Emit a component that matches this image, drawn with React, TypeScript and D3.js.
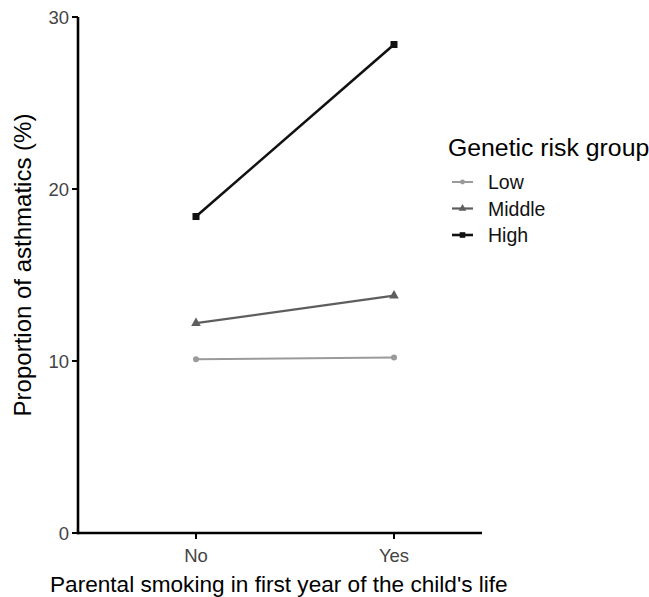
import React from 'react';
import * as d3 from 'd3';

const categories = ['No', 'Yes'];
const groups = ['Low', 'Middle', 'High'];
const lowValues = [10.1, 10.2];
const middleValues = [12.2, 13.8];
const highValues = [18.4, 28.4];
const yTicks = [0, 10, 20, 30];

const colors: Record<string, string> = { Low: '#9a9a9a', Middle: '#5e5e5e', High: '#111111' };
const widths: Record<string, number> = { Low: 2, Middle: 2.2, High: 2.6 };
const font = 'Liberation Sans, Arial, sans-serif';

const App = () => {
  const W = 649;
  const H = 597;
  const left = 78;
  const right = 482;
  const top = 17;
  const bottom = 533;

  // categories sit at No ≈ 196px, Yes ≈ 394px
  const x = d3.scalePoint<string>().domain(categories).range([left + 118, left + 316]);
  const y = d3.scaleLinear().domain([0, 30]).range([bottom, top]);

  const seriesValues: Record<string, number[]> = { Low: lowValues, Middle: middleValues, High: highValues };

  const line = d3.line<number>()
    .x((_, i) => x(categories[i]) as number)
    .y((d) => y(d));

  const marker = (g: string, cx: number, cy: number, key: string, s = 1) => {
    if (g === 'Low') return <circle key={key} cx={cx} cy={cy} r={3 * s} fill={colors[g]} />;
    if (g === 'Middle') {
      const sym = d3.symbol().type(d3.symbolTriangle).size(40 * s * s)();
      return <path key={key} d={sym as string} transform={`translate(${cx},${cy})`} fill={colors[g]} />;
    }
    return <rect key={key} x={cx - 3.5 * s} y={cy - 3.5 * s} width={7 * s} height={7 * s} fill={colors[g]} />;
  };

  return (
    <svg width={W} height={H} style={{ position: 'absolute', left: 0, top: 0, background: '#fff' }}>
      {/* series */}
      {groups.map((g) => (
        <g key={g}>
          <path d={line(seriesValues[g]) as string} fill="none" stroke={colors[g]} strokeWidth={widths[g]} />
          {seriesValues[g].map((v, i) => marker(g, x(categories[i]) as number, y(v), `${g}-${i}`))}
        </g>
      ))}

      {/* axes */}
      <line x1={left} x2={left} y1={top} y2={bottom + 1.2} stroke="#000" strokeWidth={2.6} />
      <line x1={left - 1.2} x2={right} y1={bottom} y2={bottom} stroke="#000" strokeWidth={2.6} />
      {yTicks.map((t) => (
        <g key={t}>
          <line x1={left - 6} x2={left} y1={y(t)} y2={y(t)} stroke="#000" strokeWidth={2} />
          <text x={left - 9} y={y(t)} dy="0.36em" textAnchor="end" fontFamily={font} fontSize={18.5} fill="#444">
            {t}
          </text>
        </g>
      ))}
      {categories.map((c) => (
        <g key={c}>
          <line x1={x(c)} x2={x(c)} y1={bottom} y2={bottom + 6} stroke="#000" strokeWidth={2} />
          <text x={x(c)} y={bottom + 29} textAnchor="middle" fontFamily={font} fontSize={18.5} fill="#444">
            {c}
          </text>
        </g>
      ))}

      {/* axis titles */}
      <text x={50} y={592} fontFamily={font} fontSize={22.6} fill="#000">
        Parental smoking in first year of the child's life
      </text>
      <text
        transform={`translate(31,265) rotate(-90)`}
        textAnchor="middle"
        fontFamily={font}
        fontSize={24}
        fill="#000"
      >
        Proportion of asthmatics (%)
      </text>

      {/* legend */}
      <text x={448} y={156} fontFamily={font} fontSize={24.8} fill="#000">
        Genetic risk group
      </text>
      {groups.map((g, i) => {
        const ly = 182 + i * 26.5;
        return (
          <g key={g}>
            <line x1={452} x2={473} y1={ly} y2={ly} stroke={colors[g]} strokeWidth={widths[g]} />
            {marker(g, 462.5, ly, `leg-${g}`, 0.8)}
            <text x={488} y={ly} dy="0.36em" fontFamily={font} fontSize={19.5} fill="#111">
              {g}
            </text>
          </g>
        );
      })}
    </svg>
  );
};

export default App;
